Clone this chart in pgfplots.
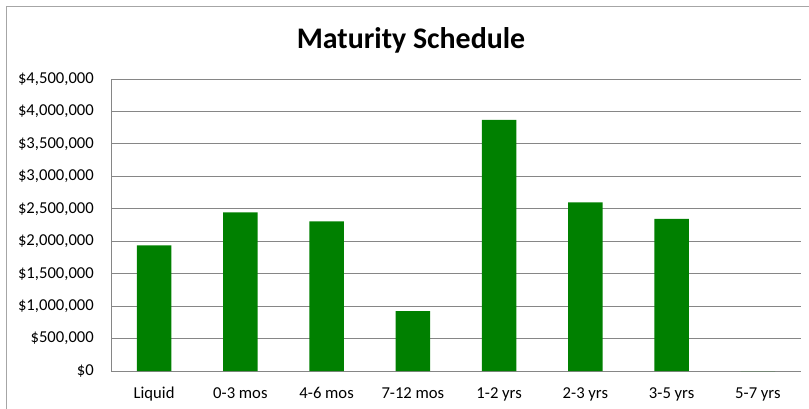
\documentclass[border=0pt]{standalone}
\usepackage{pgfplots}
\pgfplotsset{compat=1.18}
\usepackage{fontspec}
\setmainfont{Carlito}
\definecolor{gridgray}{HTML}{868686}
\definecolor{framegray}{HTML}{A6A6A6}
\definecolor{bargreen}{HTML}{008000}
\begin{document}
\begin{tikzpicture}
\useasboundingbox (0,0) rectangle (809bp,409bp);
\clip (0,0) rectangle (809bp,409bp);
\fill[white] (0,0) rectangle (809bp,409bp);
\draw[framegray, line width=1bp] (6.5bp,-20bp) -- (6.5bp,402bp) -- (830bp,402bp);
\node[anchor=base, font=\fontsize{30}{36}\selectfont\bfseries] at (411bp,360bp) {Maturity Schedule};
\begin{axis}[
  at={(111bp,38bp)}, anchor=south west,
  scale only axis, width=690bp, height=292bp,
  xmin=-0.5, xmax=7.5, ymin=0, ymax=4500000,
  axis x line*=bottom, axis y line*=left,
  axis line style={gridgray, line width=0.9bp},
  ymajorgrids=true, xmajorgrids=false,
  grid style={gridgray, line width=0.9bp},
  major tick length=0pt,
  xtick={0,...,7},
  xticklabels={Liquid,0-3 mos,4-6 mos,7-12 mos,1-2 yrs,2-3 yrs,3-5 yrs,5-7 yrs},
  ytick={0,500000,1000000,1500000,2000000,2500000,3000000,3500000,4000000,4500000},
  yticklabels={{\$0},{\$500,000},{\$1,000,000},{\$1,500,000},{\$2,000,000},{\$2,500,000},{\$3,000,000},{\$3,500,000},{\$4,000,000},{\$4,500,000}},
  ticklabel style={font=\fontsize{16.7}{20}\selectfont, inner sep=0pt},
  yticklabel style={anchor=east, xshift=-17bp},
  xticklabel style={anchor=base, yshift=-27bp},
  scaled y ticks=false,
  clip=false,
]
\addplot[ybar, bar width=0.4, fill=bargreen, draw=none] coordinates {
  (0,1935000) (1,2443000) (2,2305000) (3,924000) (4,3871000) (5,2597000) (6,2346000) (7,0)
};
\end{axis}
\end{tikzpicture}
\end{document}
